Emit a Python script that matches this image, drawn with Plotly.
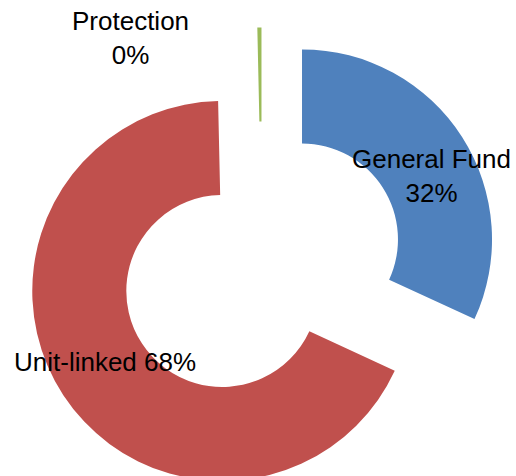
import plotly.graph_objects as go

labels = ["General Fund", "Unit-linked", "Protection"]
values = [32, 68, 0.35]
colors = ["#4F81BD", "#C0504D", "#9BBB59"]
label_texts = ["General Fund<br>32%", "Unit-linked 68%", "Protection<br>0%"]

W, H = 516, 530

fig = go.Figure(go.Pie(
    labels=labels,
    values=values,
    sort=False,
    direction="clockwise",
    rotation=0,
    hole=0.505,
    pull=[0.25, 0.25, 0.25],
    marker=dict(colors=colors, line=dict(width=0)),
    textinfo="none",
    hoverinfo="label+percent",
    showlegend=False,
    domain=dict(x=[24.5 / W, 499.5 / W], y=[(H - 502.5) / H, (H - 27.5) / H]),
))

label_px = [(431, 176), (105, 362), (130, 38)]
for txt, (px, py) in zip(label_texts, label_px):
    fig.add_annotation(
        text=txt, x=px / W, y=1 - py / H, xref="paper", yref="paper",
        xanchor="center", yanchor="middle", showarrow=False, align="center",
        font=dict(family="Liberation Sans, Arial, sans-serif", size=26, color="#000000"),
    )

fig.update_layout(
    width=W, height=H,
    margin=dict(l=0, r=0, t=0, b=0),
    paper_bgcolor="white", plot_bgcolor="white",
)

fig.write_html("out.html", post_script="document.body.style.overflow='hidden';document.body.style.margin='0';")
